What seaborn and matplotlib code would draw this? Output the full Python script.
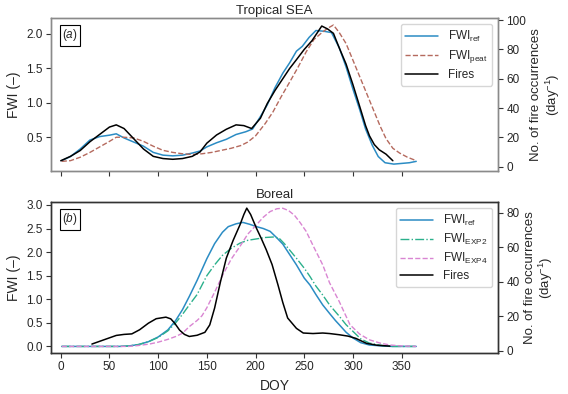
import matplotlib
matplotlib.use("Agg")
import matplotlib.pyplot as plt
import numpy as np
import pandas as pd
import seaborn as sns

# ---- Tropical SEA (panel a) ----
sea_doy = [1, 10, 20, 30, 40, 50, 57, 65, 75, 85, 95, 105, 115, 125, 135, 143,
           150, 160, 170, 180, 190, 197, 205, 212, 220, 228, 235, 242, 248, 255,
           262, 270, 278, 286, 293, 300, 307, 313, 320, 326, 333, 342, 350, 358, 365]
sea_fwi_ref = [0.16, 0.22, 0.33, 0.46, 0.51, 0.53, 0.55, 0.49, 0.43, 0.37, 0.28, 0.24,
               0.23, 0.24, 0.27, 0.30, 0.36, 0.42, 0.47, 0.54, 0.58, 0.62, 0.80, 0.97,
               1.22, 1.43, 1.58, 1.75, 1.82, 1.95, 2.05, 2.04, 2.02, 1.80, 1.52, 1.20,
               0.90, 0.62, 0.38, 0.22, 0.13, 0.11, 0.12, 0.13, 0.15]

peat_doy = [1, 10, 20, 30, 40, 50, 57, 65, 75, 85, 95, 105, 115, 125, 135, 145, 155,
            165, 175, 185, 192, 200, 210, 218, 226, 235, 243, 252, 260, 269, 275, 280,
            286, 293, 300, 307, 314, 321, 328, 334, 341, 348, 356, 365]
sea_fwi_peat = [0.15, 0.16, 0.21, 0.28, 0.36, 0.44, 0.50, 0.50, 0.49, 0.44, 0.37, 0.31,
                0.28, 0.26, 0.25, 0.26, 0.28, 0.31, 0.34, 0.38, 0.43, 0.52, 0.70, 0.87,
                1.08, 1.30, 1.50, 1.74, 1.92, 2.03, 2.09, 2.13, 2.02, 1.86, 1.62, 1.38,
                1.14, 0.90, 0.66, 0.48, 0.34, 0.27, 0.21, 0.16]

sea_fire_doy = [0, 10, 20, 30, 40, 50, 57, 65, 75, 85, 95, 105, 115, 125, 135, 143, 150,
                160, 170, 180, 188, 196, 205, 212, 220, 228, 235, 242, 250, 258, 263, 268,
                274, 280, 286, 293, 300, 307, 313, 317, 322, 327, 334, 341]
sea_fires = [4, 7, 11, 17, 22, 27, 28.5, 26, 19, 12, 7, 5.5, 5, 5.5, 7, 10, 16, 21.6,
             25.5, 28.5, 28, 26, 33, 43, 52, 60, 67, 73, 80, 86, 91, 96, 94, 91, 81, 70,
             56, 41, 28, 21, 15, 11.5, 8.5, 4]

# ---- Boreal (panel b) ----
bor_doy = [1, 60, 70, 80, 90, 100, 110, 118, 125, 132, 140, 150, 158, 166, 172, 180,
           187, 194, 201, 208, 215, 222, 228, 235, 242, 250, 256, 262, 269, 276, 282,
           286, 293, 300, 308, 317, 330, 340, 365]
bor_fwi_ref = [0.0, 0.0, 0.01, 0.04, 0.10, 0.20, 0.35, 0.55, 0.78, 1.06, 1.40, 1.86,
               2.18, 2.42, 2.54, 2.60, 2.63, 2.59, 2.54, 2.50, 2.44, 2.30, 2.17, 1.95,
               1.73, 1.45, 1.30, 1.10, 0.88, 0.70, 0.55, 0.46, 0.30, 0.18, 0.08, 0.03,
               0.01, 0.0, 0.0]

exp2_doy = [1, 60, 70, 80, 90, 100, 110, 118, 125, 132, 140, 150, 158, 166, 175, 184,
            192, 201, 210, 218, 224, 230, 236, 242, 250, 256, 262, 269, 276, 286, 293,
            300, 308, 317, 330, 340, 365]
bor_fwi_exp2 = [0.0, 0.0, 0.01, 0.04, 0.10, 0.19, 0.33, 0.50, 0.68, 0.88, 1.10, 1.50,
                1.73, 1.93, 2.08, 2.19, 2.25, 2.28, 2.31, 2.32, 2.30, 2.17, 2.02, 1.87,
                1.66, 1.48, 1.28, 1.09, 0.88, 0.64, 0.46, 0.32, 0.16, 0.07, 0.02, 0.0, 0.0]

exp4_doy = [1, 70, 80, 91, 100, 110, 118, 125, 132, 140, 145, 150, 158, 166, 175, 184,
            192, 201, 208, 215, 222, 228, 234, 240, 246, 252, 260, 269, 276, 286, 297,
            307, 317, 328, 338, 350, 365]
bor_fwi_exp4 = [0.0, 0.0, 0.02, 0.05, 0.09, 0.15, 0.21, 0.28, 0.42, 0.55, 0.65, 0.82,
                1.15, 1.50, 1.85, 2.12, 2.38, 2.58, 2.74, 2.86, 2.92, 2.93, 2.88, 2.78,
                2.62, 2.44, 2.10, 1.73, 1.35, 0.95, 0.46, 0.26, 0.14, 0.07, 0.03, 0.01, 0.0]

bor_fire_doy = [32, 40, 50, 57, 65, 73, 81, 90, 98, 108, 113, 117, 122, 127, 132, 140,
                148, 153, 158, 164, 170, 177, 184, 188, 191, 195, 201, 206, 211, 217,
                223, 228, 233, 242, 249, 259, 269, 276, 286, 295, 303, 314, 325, 338]
bor_fires = [3.9, 5.5, 7.5, 8.9, 9.5, 9.8, 12.2, 16, 18.6, 19.5, 18.5, 16, 12, 9.5, 8.3,
             9, 10.7, 15, 24.8, 40, 53.7, 64, 73, 79, 82.7, 79, 71, 65, 58.6, 50, 38.3,
             28, 19, 13, 10.3, 10, 10.3, 10, 9.3, 8.5, 7.2, 4.3, 3.2, 2.7]

c_ref = "#2b8cc4"
c_peat = "#b56a5e"
c_exp2 = "#2bb08c"
c_exp4 = "#d985d2"

sns.set_style("ticks")
plt.rcParams["font.family"] = ["Liberation Sans", "DejaVu Sans"]
plt.rcParams["mathtext.fontset"] = "custom"
plt.rcParams["mathtext.rm"] = "Liberation Sans"
plt.rcParams["mathtext.it"] = "Liberation Sans:italic"

fig = plt.figure(figsize=(5.68, 3.94), dpi=100)
ax1 = fig.add_axes([0.0898, 0.566, 0.787, 0.388])
ax2 = fig.add_axes([0.0898, 0.104, 0.787, 0.383])

ylab_right = "No. of fire occurrences\n(day$^{-1}$)"


def style_axes(ax, axr, spine_color):
    for a in (ax, axr):
        for s in a.spines.values():
            s.set_color(spine_color)
            s.set_linewidth(1.0)
        a.tick_params(labelsize=8.5, length=3.5, color="#333333", width=0.8, pad=2.5)


# panel a
sns.lineplot(x=sea_doy, y=sea_fwi_ref, ax=ax1, color=c_ref, lw=1.1, label=r"FWI$_{\rm ref}$", legend=False)
sns.lineplot(x=peat_doy, y=sea_fwi_peat, ax=ax1, color=c_peat, lw=1.0, linestyle="--",
             label=r"FWI$_{\rm peat}$", legend=False)
ax1r = ax1.twinx()
sns.lineplot(x=sea_fire_doy, y=sea_fires, ax=ax1r, color="black", lw=1.1, label="Fires", legend=False)
ax1.set_xlim(-10, 449)
ax1.set_ylim(0.01, 2.23)
ax1r.set_ylim(-3, 101.4)
ax1.set_xticks(np.arange(0, 351, 50))
ax1.set_xticklabels([])
ax1.set_yticks([0.5, 1.0, 1.5, 2.0])
ax1r.set_yticks(np.arange(0, 101, 20))
ax1.set_ylabel("FWI (–)", fontsize=10)
ax1r.set_ylabel(ylab_right, fontsize=9.5, labelpad=3, linespacing=1.1)
ax1.set_title("Tropical SEA", fontsize=9.5, pad=3)
style_axes(ax1, ax1r, "#8a8a8a")
h1, l1 = ax1.get_legend_handles_labels()
h2, l2 = ax1r.get_legend_handles_labels()
ax1r.legend(h1 + h2, l1 + l2, loc="upper right", fontsize=8.5, handlelength=2.8,
            frameon=True, edgecolor="#cccccc", borderaxespad=0.5, labelspacing=0.35)
ax1.text(0.025, 0.94, "($\\it{a}$)", transform=ax1.transAxes, fontsize=8.5, va="top", ha="left",
         bbox=dict(boxstyle="square,pad=0.2", fc="white", ec="black", lw=0.8))

# panel b
sns.lineplot(x=bor_doy, y=bor_fwi_ref, ax=ax2, color=c_ref, lw=1.1, label=r"FWI$_{\rm ref}$", legend=False)
sns.lineplot(x=exp2_doy, y=bor_fwi_exp2, ax=ax2, color=c_exp2, lw=1.0, linestyle="-.",
             label=r"FWI$_{\rm EXP2}$", legend=False)
sns.lineplot(x=exp4_doy, y=bor_fwi_exp4, ax=ax2, color=c_exp4, lw=1.0, linestyle="--",
             label=r"FWI$_{\rm EXP4}$", legend=False)
ax2r = ax2.twinx()
sns.lineplot(x=bor_fire_doy, y=bor_fires, ax=ax2r, color="black", lw=1.1, label="Fires", legend=False)
ax2.set_xlim(-10, 449)
ax2.set_ylim(-0.14, 3.06)
ax2r.set_ylim(-1.3, 86.2)
ax2.set_xticks(np.arange(0, 351, 50))
ax2.set_yticks(np.arange(0, 3.01, 0.5))
ax2r.set_yticks(np.arange(0, 81, 20))
ax2.set_ylabel("FWI (–)", fontsize=10)
ax2r.set_ylabel(ylab_right, fontsize=9.5, labelpad=3, linespacing=1.1)
ax2.set_xlabel("DOY", fontsize=10)
ax2.set_title("Boreal", fontsize=9.5, pad=3)
style_axes(ax2, ax2r, "#333333")
h1, l1 = ax2.get_legend_handles_labels()
h2, l2 = ax2r.get_legend_handles_labels()
ax2r.legend(h1 + h2, l1 + l2, loc="upper right", fontsize=8.5, handlelength=2.8,
            frameon=True, edgecolor="#cccccc", borderaxespad=0.5, labelspacing=0.35)
ax2.text(0.025, 0.94, "($\\it{b}$)", transform=ax2.transAxes, fontsize=8.5, va="top", ha="left",
         bbox=dict(boxstyle="square,pad=0.2", fc="white", ec="black", lw=0.8))

fig.savefig("out.png", dpi=100)
